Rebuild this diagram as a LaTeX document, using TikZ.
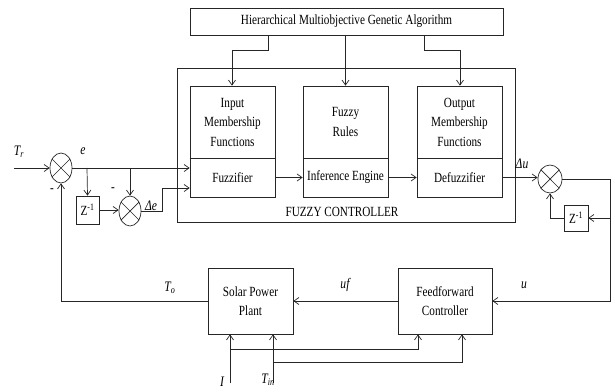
\documentclass[tikz,border=0pt]{standalone}
\usepackage{fontspec}
\setmainfont[FakeStretch=0.8]{Liberation Serif}
\usetikzlibrary{arrows.meta,shapes.geometric}
\tikzset{
  ln/.style={line width=0.7pt, draw=black!85},
  arr/.style={ln, -{Straight Barb[length=5pt,width=7pt]}},
  blk/.style={ln, rectangle, inner sep=0pt, align=center, font=\fontsize{14}{19.5}\selectfont},
  sumj/.style={ln, ellipse, minimum width=22pt, minimum height=30pt, inner sep=0pt},
  lbl/.style={font=\fontsize{14.5}{15}\selectfont\itshape, inner sep=0pt},
  txt/.style={font=\fontsize{14}{15}\selectfont, inner sep=0pt}
}
\newcommand{\crossit}[1]{\draw[ln] (#1.45) -- (#1.225) (#1.135) -- (#1.315);}
\begin{document}
\begin{tikzpicture}[x=1pt,y=-1pt]
\useasboundingbox (0,0) rectangle (615,391);
% top GA box
\node[blk, minimum width=313pt, minimum height=27pt] (hmga) at (346.5,21.5) {Hierarchical Multiobjective Genetic Algorithm};
% fuzzy controller frame
\node[blk, minimum width=338pt, minimum height=154pt] (fc) at (346,145) {};
\node[txt] (fclbl) at (342,212) {FUZZY CONTROLLER};
% inner blocks
\node[blk, minimum width=85pt, minimum height=72pt] (imf) at (232.5,122) {Input\\Membership\\Functions};
\node[blk, minimum width=85pt, minimum height=39pt] (fuz) at (232.5,177.5) {Fuzzifier};
\node[blk, minimum width=85pt, minimum height=72pt] (fr) at (345.5,122) {Fuzzy\\Rules};
\node[blk, minimum width=85pt, minimum height=39pt] (inf) at (345.5,177.5) {Inference Engine};
\node[blk, minimum width=85pt, minimum height=72pt] (omf) at (459.5,122) {Output\\Membership\\Functions};
\node[blk, minimum width=85pt, minimum height=39pt] (def) at (459.5,177.5) {Defuzzifier};
\draw[line width=1.3pt, draw=black!85] (imf.south west) -- (imf.south east) (fr.south west) -- (fr.south east) (omf.south west) -- (omf.south east);
% GA arrows
\coordinate (g1) at (268,35);
\coordinate (g3) at (424,35);
\draw[arr] (g1) -- (268,50) -- (232,50) -- (imf.north -| 232,0);
\draw[arr] (hmga.south -| fr.north) -- (fr.north);
\draw[arr] (g3) -- (424,50) -- (460,50) -- (omf.north -| 460,0);
% sum junctions
\node[sumj] (s1) at (61,168) {};
\node[sumj] (s2) at (130,211) {};
\node[sumj, minimum width=24pt, minimum height=28pt] (s3) at (550,179) {};
\crossit{s1}\crossit{s2}\crossit{s3}
% delay blocks
\node[blk, minimum width=23pt, minimum height=28pt] (z1) at (87.5,210) {Z\textsuperscript{-1}};
\node[blk, minimum width=24pt, minimum height=26pt] (z2) at (576,218) {Z\textsuperscript{-1}};
% plant and feedforward
\node[blk, minimum width=85pt, minimum height=66pt] (sp) at (250.5,301) {Solar Power\\Plant};
\node[blk, minimum width=94pt, minimum height=66pt] (ff) at (445,301) {Feedforward\\Controller};
% left part
\coordinate (tr) at (14,168);
\draw[arr] (tr) -- (s1.west);
\draw[arr] (s1.east) -- (fuz.west |- s1.east);
\draw[arr] (87,168) -- (z1.north);
\draw[arr] (130,168) -- (s2.north);
\draw[arr] (z1.east) -- (s2.west |- z1.east);
\draw[arr] (s2.east) -- (162,211) -- (162,188) -- (fuz.west |- 162,188);
% internal chain
\draw[arr] (fuz.east) -- (inf.west);
\draw[arr] (inf.east) -- (def.west);
\draw[arr] (def.east) -- (s3.west |- def.east);
% right loop
\draw[arr] (s3.east) -- (610,179) -- (610,301) -- (ff.east);
\draw[arr] (610,218) -- (z2.east);
\draw[arr] (z2.west) -- (550,218) -- (s3.south);
% bottom
\draw[arr] (ff.west) -- (sp.east);
\draw[arr] (sp.west) -- (61,301) -- (s1.south);
\coordinate (iin) at (230,383);
\coordinate (tin) at (273,383);
\draw[arr] (iin) -- (sp.south -| iin);
\draw[arr] (tin) -- (sp.south -| tin);
\draw[arr] (230,349) -- (418,349) -- (ff.south -| 418,0);
\draw[arr] (273,362) -- (462,362) -- (ff.south -| 462,0);
% labels
\node[lbl] (ltr) at (19,152) {T\textsubscript{r}};
\node[lbl] (le) at (83,151) {e};
\node[lbl] (lde) at (151,206) {Δe};
\node[lbl] (ldu) at (522,164) {Δu};
\node[lbl] (lu) at (524,285) {u};
\node[lbl] (luf) at (345,285) {uf};
\node[lbl] (lto) at (170,288) {T\textsubscript{o}};
\node[lbl] (li) at (222,382) {I};
\node[lbl] (ltin) at (268,380) {T\textsubscript{in}};
\node[txt] (m1) at (52,191) {-};
\node[txt] (m2) at (113,190) {-};
\end{tikzpicture}
\end{document}
